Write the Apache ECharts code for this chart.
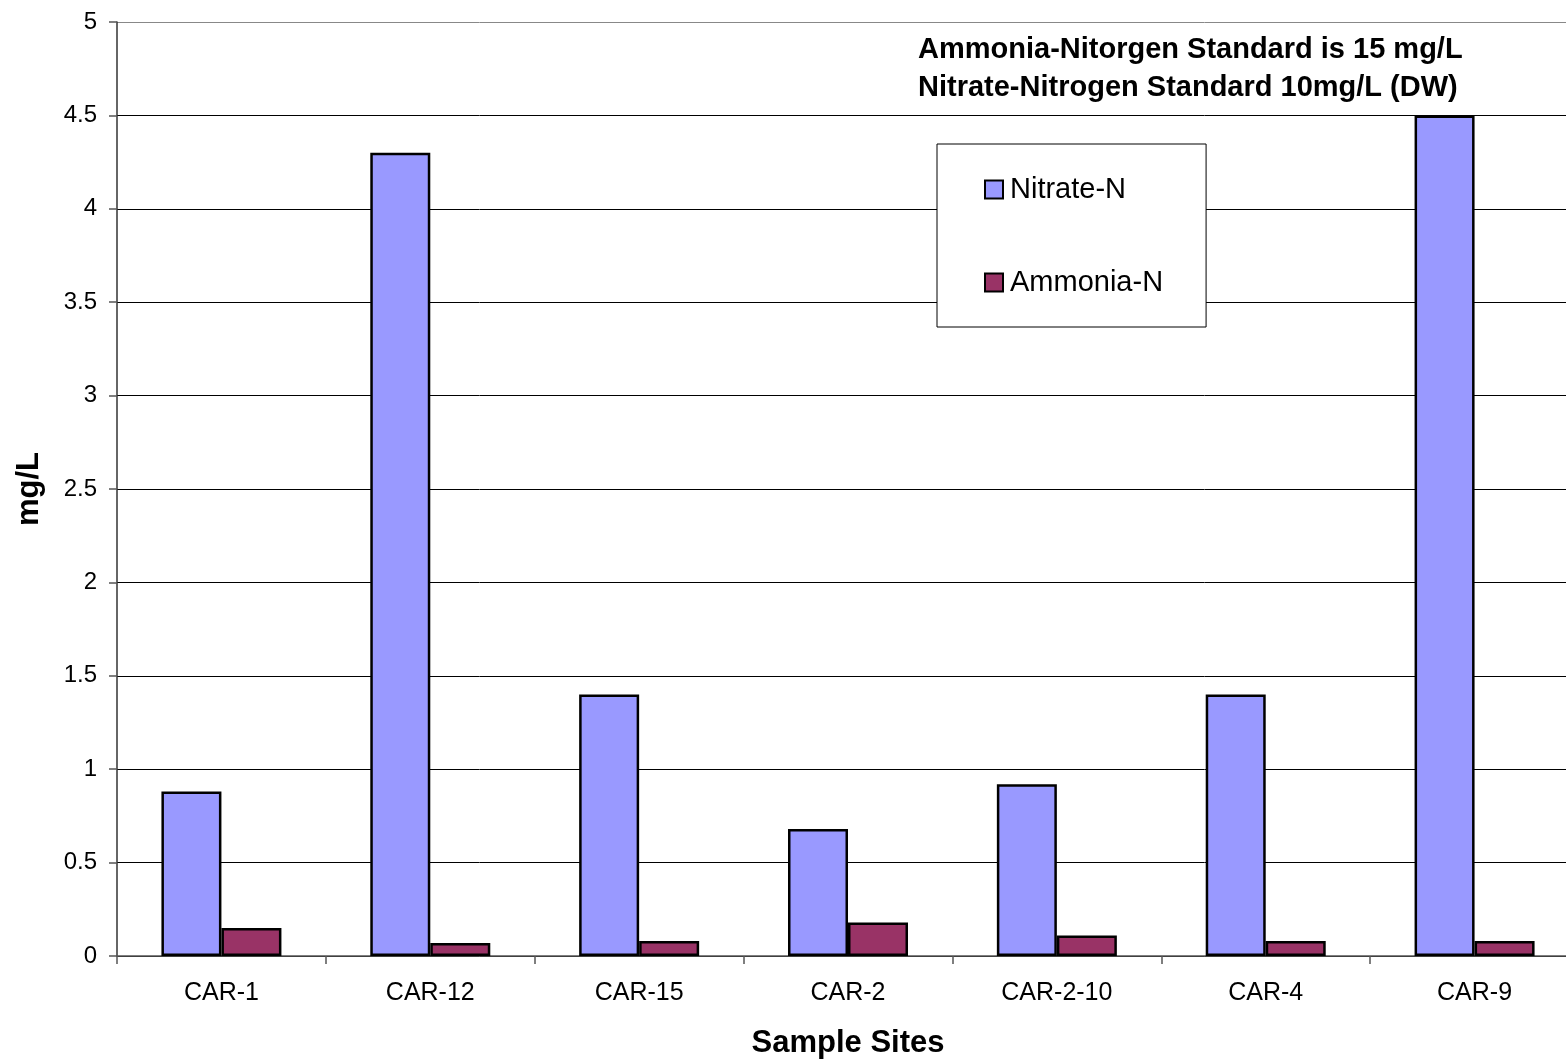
<!DOCTYPE html>
<html>
<head>
<meta charset="utf-8">
<script src="https://cdn.jsdelivr.net/npm/echarts@6/dist/echarts.min.js"></script>
<style>
html,body{margin:0;padding:0;background:#fff;}
#chart{width:1566px;height:1062px;}
</style>
</head>
<body>
<div id="chart"></div>
<script>
// Sample sites and measured concentrations (mg/L)
const sites = ['CAR-1', 'CAR-12', 'CAR-15', 'CAR-2', 'CAR-2-10', 'CAR-4', 'CAR-9'];
const nitrateN = [0.88, 4.30, 1.40, 0.68, 0.92, 1.40, 4.50];
const ammoniaN = [0.15, 0.07, 0.08, 0.18, 0.11, 0.08, 0.08];
const standardsNote = [
  'Ammonia-Nitorgen Standard is 15 mg/L',
  'Nitrate-Nitrogen Standard 10mg/L (DW)'
];

const FONT = '"Liberation Sans", Arial, sans-serif';
const chart = echarts.init(document.getElementById('chart'), null, { renderer: 'canvas' });

// grid line colours: dark lines inside, lighter line at the top edge
const splitColors = ['#000','#000','#000','#000','#000','#000','#000','#000','#000','#000','#888'];

chart.setOption({
  backgroundColor: '#fff',
  animation: false,
  textStyle: { fontFamily: FONT },
  // the plot area runs slightly past the right edge of the canvas
  grid: { left: 117, right: -13, top: 22, bottom: 106, containLabel: false, outerBoundsMode: 'none' },
  title: {
    text: standardsNote.join('\n'),
    left: 918,
    top: 31,
    padding: 0,
    textStyle: { fontFamily: FONT, fontSize: 29, fontWeight: 'bold', color: '#000', lineHeight: 38 }
  },
  legend: {
    orient: 'vertical',
    left: 937,
    top: 144,
    padding: [31, 43, 30, 47],
    itemGap: 64,
    itemWidth: 18,
    itemHeight: 18,
    backgroundColor: '#fff',
    borderColor: '#000',
    borderWidth: 1,
    borderRadius: 0,
    icon: 'rect',
    itemStyle: { borderColor: '#000', borderWidth: 2 },
    textStyle: { fontFamily: FONT, fontSize: 29, color: '#000', padding: [0, 0, 0, 2] },
    data: ['Nitrate-N', 'Ammonia-N']
  },
  xAxis: {
    type: 'category',
    data: sites,
    name: 'Sample Sites',
    nameLocation: 'middle',
    nameGap: 72,
    nameTextStyle: { fontFamily: FONT, fontSize: 31, fontWeight: 'bold', color: '#000' },
    axisLine: { lineStyle: { color: '#555', width: 1.5 } },
    axisTick: { show: true, alignWithLabel: false, length: 8, inside: false, lineStyle: { color: '#555', width: 1.5 } },
    axisLabel: { fontFamily: FONT, fontSize: 25, color: '#000', margin: 25 },
    splitLine: { show: false }
  },
  yAxis: {
    type: 'value',
    min: 0,
    max: 5,
    interval: 0.5,
    name: 'mg/L',
    nameLocation: 'middle',
    nameGap: 72,
    nameRotate: 90,
    nameTextStyle: { fontFamily: FONT, fontSize: 31, fontWeight: 'bold', color: '#000' },
    axisLine: { show: true, lineStyle: { color: '#333', width: 1.5 } },
    axisTick: { show: true, length: 8, lineStyle: { color: '#555', width: 1.5 } },
    axisLabel: { fontFamily: FONT, fontSize: 24, color: '#000', margin: 20 },
    splitLine: { show: true, lineStyle: { color: splitColors, width: 1 } }
  },
  series: [
    {
      name: 'Nitrate-N',
      type: 'bar',
      data: nitrateN,
      barWidth: 60,
      barGap: '0%',
      itemStyle: { color: '#9999FF', borderColor: '#000', borderWidth: 2.5 }
    },
    {
      name: 'Ammonia-N',
      type: 'bar',
      data: ammoniaN,
      barWidth: 60,
      barGap: '0%',
      itemStyle: { color: '#993366', borderColor: '#000', borderWidth: 2.5 }
    }
  ]
});
</script>
</body>
</html>
